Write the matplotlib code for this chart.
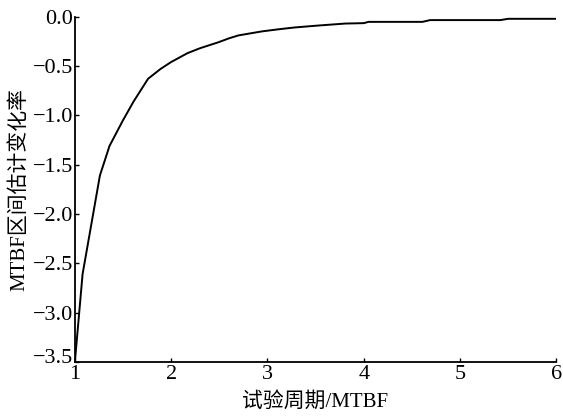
import matplotlib
matplotlib.use("Agg")
import matplotlib.pyplot as plt
import matplotlib.transforms as mtransforms

plt.rcParams['font.family'] = ['Liberation Serif', 'Noto Sans CJK SC', 'DejaVu Sans']

# 读图得到的数据
period = [1.0, 1.08, 1.26, 1.36, 1.50, 1.61, 1.76, 1.89, 2.0, 2.17, 2.3, 2.49, 2.6, 2.70,
          2.94, 3.1, 3.28, 3.53, 3.81, 4.0, 4.05, 4.61, 4.69, 5.42, 5.50, 6.0]
rate = [-3.50, -2.61, -1.61, -1.31, -1.05, -0.86, -0.63, -0.53, -0.46, -0.37, -0.32, -0.26, -0.22, -0.19,
        -0.15, -0.13, -0.11, -0.09, -0.07, -0.066, -0.053, -0.053, -0.035, -0.035, -0.022, -0.022]
xticks = [1, 2, 3, 4, 5, 6]
yticks = [0.0, -0.5, -1.0, -1.5, -2.0, -2.5, -3.0, -3.5]

fig = plt.figure(figsize=(5.63, 4.16), dpi=100)
ax = fig.add_axes([0.133, 0.13, 0.855, 0.83])

ax.plot(period, rate, color="black", linewidth=1.4)

ax.set_xlim(1, 6)
ax.set_ylim(-3.5, 0)
ax.set_xticks(xticks)
ax.set_yticks(yticks)
ax.set_yticklabels([("%.1f" % v).replace("-", "\u2212") for v in yticks])

ax.spines["top"].set_visible(False)
ax.spines["right"].set_visible(False)
ax.spines["left"].set_linewidth(1.3)
ax.spines["bottom"].set_linewidth(1.3)
ax.tick_params(direction="in", length=3, width=1, labelsize=16, pad=1)
ax.tick_params(axis="x", pad=2)

# 最下面的 -3.5 稍微上移，避免和 1 重叠
lab = ax.get_yticklabels()[-1]
lab.set_transform(lab.get_transform() + mtransforms.ScaledTranslation(0, 6 / 100, fig.dpi_scale_trans))

ax.set_xlabel("试验周期/MTBF", fontsize=15, labelpad=6)
ax.set_ylabel("MTBF区间估计变化率", fontsize=15, labelpad=3)

fig.savefig("out.png", dpi=100)
